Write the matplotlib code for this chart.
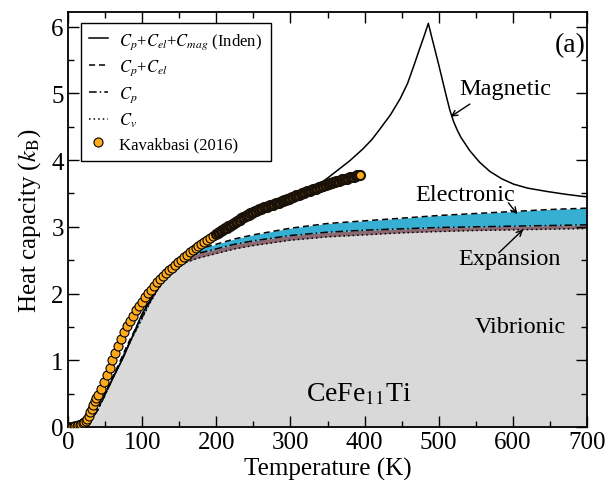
import numpy as np
import matplotlib
matplotlib.use('Agg')
from matplotlib import pyplot as plt

# model curves (k_B per atom)
T_model = [0, 10, 20, 30, 40, 50, 60, 70, 80, 90, 100, 110, 120, 130, 140, 150, 160, 175,
           200, 225, 250, 300, 350, 400, 450, 500, 550, 600, 650, 700]
C_v = [0, 0.005, 0.03, 0.09, 0.25, 0.48, 0.72, 0.95, 1.19, 1.41, 1.63, 1.85, 2.04, 2.20, 2.32,
       2.41, 2.47, 2.53, 2.60, 2.67, 2.72, 2.80, 2.85, 2.88, 2.91, 2.93, 2.945, 2.955, 2.965, 2.975]
C_p = [0, 0.005, 0.03, 0.09, 0.25, 0.48, 0.72, 0.955, 1.20, 1.42, 1.645, 1.87, 2.07, 2.24, 2.37,
       2.46, 2.53, 2.60, 2.67, 2.74, 2.79, 2.87, 2.92, 2.95, 2.97, 2.99, 3.00, 3.01, 3.02, 3.03]
C_p_el = [0, 0.009, 0.037, 0.10, 0.26, 0.50, 0.74, 0.98, 1.23, 1.45, 1.68, 1.91, 2.11, 2.29, 2.42,
          2.51, 2.59, 2.66, 2.74, 2.82, 2.88, 2.98, 3.05, 3.09, 3.13, 3.17, 3.20, 3.23, 3.26, 3.28]

T_mag = [0, 25, 50, 75, 100, 125, 150, 175, 200, 225, 250, 275, 300, 320, 336, 350, 365, 380,
         398, 410, 421, 435, 448, 458, 466, 474, 480, 486, 490, 495, 500, 505, 510, 515, 520,
         525, 530, 542, 555, 569, 585, 601, 620, 646, 670, 691, 700]
C_mag = [0, 0.14, 0.50, 1.05, 1.70, 2.14, 2.45, 2.68, 2.88, 3.04, 3.20, 3.32, 3.43, 3.52, 3.62,
         3.73, 3.86, 3.99, 4.17, 4.31, 4.47, 4.68, 4.92, 5.15, 5.40, 5.66, 5.85, 6.05, 5.87, 5.65,
         5.43, 5.20, 4.97, 4.75, 4.58, 4.45, 4.34, 4.14, 3.97, 3.83, 3.72, 3.64, 3.58, 3.53, 3.49,
         3.46, 3.45]

# Kavakbasi (2016) measurements
T_exp_low = [0, 2, 4, 6, 8, 10, 12, 14, 16, 18, 20, 22, 24, 26, 28, 30, 32, 34, 36, 38, 40,
             44, 48, 52, 56, 60, 64, 68, 72, 76, 80, 84, 88, 92, 96, 100, 104, 108, 112, 116,
             120, 124, 128, 132, 136, 140, 144, 148, 152, 156, 160, 164, 168, 172, 176, 180,
             184, 188, 192, 196]
C_exp_low = [0, 0.0, 0.002, 0.005, 0.008, 0.012, 0.018, 0.026, 0.036, 0.048, 0.06, 0.075, 0.09,
             0.12, 0.16, 0.22, 0.27, 0.33, 0.39, 0.44, 0.48,
             0.57, 0.67, 0.78, 0.89, 1.00, 1.11, 1.22, 1.32, 1.42, 1.51, 1.59, 1.67, 1.75, 1.82,
             1.88, 1.95, 2.01, 2.06, 2.12, 2.17, 2.22, 2.27, 2.31, 2.35, 2.39, 2.43, 2.47, 2.51,
             2.55, 2.58, 2.62, 2.65, 2.68, 2.71, 2.74, 2.77, 2.80, 2.83, 2.86]
T_exp_high = list(range(200, 396, 2))
C_exp_high = [2.90, 2.91, 2.93, 2.94, 2.95, 2.97, 2.98, 2.99, 3.01, 3.02,
              3.03, 3.05, 3.06, 3.07, 3.09, 3.10, 3.11, 3.13, 3.14, 3.15,
              3.16, 3.17, 3.18, 3.20, 3.21, 3.22, 3.23, 3.24, 3.25, 3.26,
              3.27, 3.28, 3.29, 3.30, 3.30, 3.31, 3.32, 3.33, 3.33, 3.34,
              3.35, 3.35, 3.36, 3.37, 3.38, 3.39, 3.40, 3.40, 3.41, 3.42,
              3.43, 3.44, 3.45, 3.46, 3.47, 3.47, 3.48, 3.49, 3.50, 3.51,
              3.52, 3.53, 3.53, 3.54, 3.55, 3.56, 3.57, 3.57, 3.58, 3.59,
              3.60, 3.61, 3.61, 3.62, 3.63, 3.64, 3.64, 3.65, 3.66, 3.67,
              3.67, 3.68, 3.69, 3.69, 3.70, 3.71, 3.71, 3.72, 3.72, 3.73,
              3.74, 3.74, 3.75, 3.75, 3.76, 3.77, 3.77, 3.78]

plt.rcParams['font.family'] = ['Liberation Serif', 'DejaVu Serif']
plt.rcParams['mathtext.fontset'] = 'stix'

fig = plt.figure(figsize=(6.08, 4.81), dpi=100)
ax = fig.add_axes([68 / 608, 53 / 481, 519 / 608, 415 / 481])

ax.fill_between(T_model, 0, C_v, color='#d9d9d9', lw=0, zorder=1)
ax.fill_between(T_model, C_v, C_p, color='#8d6a72', lw=0, zorder=1)
ax.fill_between(T_model, C_p, C_p_el, color='#36afd2', lw=0, zorder=1)

ax.plot(T_mag, C_mag, color='k', lw=1.1, label=r'$C_p$+$C_{el}$+$C_{mag}$ (Inden)', zorder=3)
ax.plot(T_model, C_p_el, color='k', lw=1.1, ls=(0, (4, 2.5)), label=r'$C_p$+$C_{el}$', zorder=3)
ax.plot(T_model, C_p, color='k', lw=1.1, ls=(0, (5, 2, 1, 2)), label=r'$C_p$', zorder=3)
ax.plot(T_model, C_v, color='k', lw=1.1, ls=(0, (1, 2)), label=r'$C_v$', zorder=3)
ax.plot(T_exp_low, C_exp_low, ls='none', marker='o', ms=6.5, mfc='#ffaa1c', mec='k', mew=0.8,
        label='Kavakbasi (2016)', zorder=4)
ax.plot(T_exp_high, C_exp_high, ls='none', marker='o', ms=6.5, mfc='#ffaa1c', mec='#1a1208',
        mew=1.5, zorder=4)

ax.set_xlim(0, 700)
ax.set_ylim(0, 6.22)
ax.set_xticks(range(0, 701, 100))
ax.set_xticks(range(0, 701, 50), minor=True)
ax.set_yticks(range(0, 7))
ax.set_yticks(np.arange(0, 6.2, 0.5), minor=True)
ax.tick_params(which='both', direction='in', top=True, right=True, labelsize=18, pad=3,
               width=1.0)
ax.tick_params(which='major', length=8)
ax.tick_params(which='minor', length=4.5)
for s in ax.spines.values():
    s.set_linewidth(1.3)

ax.set_xlabel('Temperature (K)', fontsize=18, labelpad=3)
ax.set_ylabel(r'Heat capacity ($k_\mathrm{B}$)', fontsize=18, labelpad=6)

leg = ax.legend(loc='upper left', bbox_to_anchor=(0.025, 0.974), borderaxespad=0,
                fontsize=12, handlelength=1.1, labelspacing=0.42, handletextpad=0.7,
                fancybox=False, framealpha=1, edgecolor='k', borderpad=0.5)
leg.get_frame().set_linewidth(1.0)

ax.text(677, 5.73, '(a)', fontsize=20, ha='center', va='center')
ax.text(590, 5.08, 'Magnetic', fontsize=17.5, ha='center', va='center')
ax.text(536, 3.49, 'Electronic', fontsize=17.5, ha='center', va='center')
ax.text(596, 2.52, 'Expansion', fontsize=17.5, ha='center', va='center')
ax.text(610, 1.51, 'Vibrionic', fontsize=17.5, ha='center', va='center')
ax.text(393, 0.50, r'CeFe$_{11}$Ti', fontsize=20, ha='center', va='center')

arrow = dict(arrowstyle='->', color='k', lw=1.0, shrinkA=0, shrinkB=0)
ax.annotate('', xy=(516, 4.65), xytext=(542, 4.84), arrowprops=arrow)
ax.annotate('', xy=(606, 3.19), xytext=(594, 3.36), arrowprops=arrow)
ax.annotate('', xy=(614, 2.96), xytext=(581, 2.61), arrowprops=arrow)

fig.savefig('out.png', dpi=100)
